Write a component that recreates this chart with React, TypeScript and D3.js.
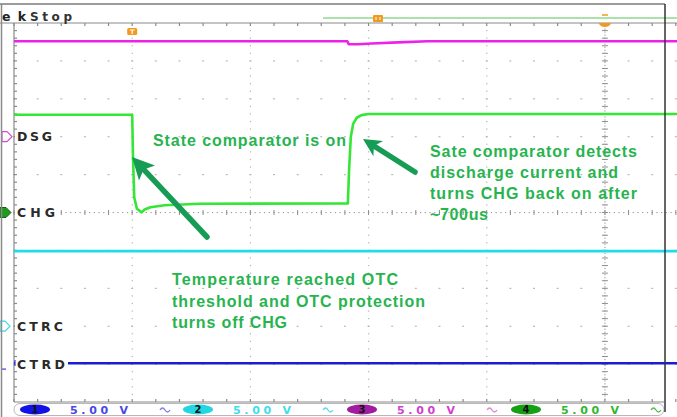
import * as d3 from 'd3';

// Scope settings: 400 us/div (trigger at 0 us), 5 V/div on every channel
const timeMajor = [0, 400, 800, 1200];
const timeCenter = 1600;
const divRows = [1, 2, 3, 4, 6, 7, 8, 9];

// traces: [time us, volts above the channel ground marker]
const dsgTrace: [number, number][] = [
  [-400, 12.6], [728, 12.6], [733, 12.2], [765, 12.2], [810, 12.3], [900, 12.45], [1000, 12.6], [1850, 12.6],
];
const chgTrace: [number, number][] = [
  [-400, 12.9], [0, 12.9], [3, 7], [7, 2], [16, 0.5], [32, 0.02], [42, 0.4], [62, 0.7], [110, 0.95],
  [230, 1.15], [730, 1.2], [734, 5.5], [740, 10], [748, 11.7], [760, 12.5], [776, 12.85], [800, 13.0], [1850, 13.0],
];
const ctrcTrace: [number, number][] = [[-400, 9.9], [1850, 9.9]];
const ctrdTrace: [number, number][] = [[-400, 0.12], [1850, 0.12]];

const channelNames = ['CTRD', 'CTRC', 'DSG', 'CHG'];
const channelNumbers = ['1', '2', '3', '4'];
const channelScales = ['5.00 V', '5.00 V', '5.00 V', '5.00 V'];
const groundDivs = [1, 2, 7, 5];

const noteOn = ['State comparator is on'];
const noteBack = ['Sate comparator detects', 'discharge current and', 'turns CHG back on after', '~700us'];
const noteOtc = ['Temperature reached OTC', 'threshold and OTC protection', 'turns off CHG'];

const traceColors = ['#1c1cd2', '#1fdcec', '#ec22ec', '#36e636'];
const badgeColors = ['#1212e6', '#22d6e2', '#a01ca0', '#16a016'];
const scaleColors = ['#4747e6', '#3fdceb', '#cf3fcf', '#2fb82f'];
const bwColors = ['#7f7fdc', '#5fd8ea', '#d58ad5', '#55bb55'];
const noteColor = '#27b44f';
const arrowColor = '#179c55';

function Arrow({ from, to, head, half, color }: { from: number[]; to: number[]; head: number; half: number; color: string }) {
  const dx = to[0] - from[0];
  const dy = to[1] - from[1];
  const len = Math.hypot(dx, dy);
  const ux = dx / len;
  const uy = dy / len;
  const bx = to[0] - ux * head;
  const by = to[1] - uy * head;
  const nx = bx + ux * 5;
  const ny = by + uy * 5;
  const px = -uy;
  const py = ux;
  return (
    <g>
      <line x1={from[0]} y1={from[1]} x2={nx} y2={ny} stroke={color} strokeWidth={5.5} strokeLinecap="round" />
      <polygon
        points={`${to[0]},${to[1]} ${bx + px * half},${by + py * half} ${nx},${ny} ${bx - px * half},${by - py * half}`}
        fill={color}
      />
    </g>
  );
}

export default function App() {
  const x = d3.scaleLinear().domain([-400, 1800]).range([14, 664]);
  const y = d3.scaleLinear().domain([0, 10]).range([402, 23]);
  const vy = (ground: number, v: number) => y(ground + v / 5);

  const minorT = d3.range(-400, 1850, 80);
  const minorDiv = d3.range(0.2, 9.9, 0.2);
  const fineT = d3.range(-400, 1850, 16);
  const fineDiv = d3.range(0.08, 9.95, 0.08);

  const traces = [ctrdTrace, ctrcTrace, dsgTrace, chgTrace];
  const lineFor = (ground: number) =>
    d3
      .line<[number, number]>()
      .x((d) => x(d[0]))
      .y((d) => vy(ground, d[1]));

  const font = '"Liberation Sans", Arial, sans-serif';
  const scopeFont = '"DejaVu Sans", sans-serif';
  const labelLen: Record<string, number> = { CTRD: 48, CTRC: 46, DSG: 35, CHG: 38 };
  const badgeX = [35, 198, 362, 526];

  const noteLens = {
    on: [193],
    back: [207, 188, 207, 58],
    otc: [226, 253, 115],
  };

  return (
    <div>
      <style>{'body{margin:0}'}</style>
      <svg width={677} height={417} style={{ display: 'block', background: '#fff' }} fontFamily={font}>
        {/* graticule dots */}
        <g fill="#b4b4b4">
          {timeMajor.map((t) =>
            minorDiv.map((d) => <rect key={`v${t}-${d}`} x={x(t) - 0.5} y={y(d) - 0.6} width={1.2} height={1.2} />)
          )}
          {divRows.map((d) =>
            minorT.map((t) => <rect key={`h${d}-${t}`} x={x(t) - 1} y={y(d) - 0.5} width={2} height={1.1} />)
          )}
        </g>
        {/* center axes */}
        <g fill="#9a9a9a">
          {fineT.map((t) => (
            <rect key={`cf${t}`} x={x(t) - 0.6} y={y(5) - 0.5} width={1.2} height={1.1} />
          ))}
          {fineDiv.map((d) => (
            <rect key={`cv${d}`} x={x(timeCenter) - 0.5} y={y(d) - 0.6} width={1.1} height={1.2} />
          ))}
        </g>
        <g stroke="#8e8e8e" strokeWidth={1}>
          {minorT.map((t) => (
            <line key={`ct${t}`} x1={x(t)} x2={x(t)} y1={y(5) - 2.5} y2={y(5) + 2.5} />
          ))}
          {minorDiv.map((d) => (
            <line key={`cd${d}`} x1={x(timeCenter) - 3} x2={x(timeCenter) + 3} y1={y(d)} y2={y(d)} />
          ))}
        </g>
        {/* graticule border */}
        <g stroke="#8a8a8a" strokeWidth={1.2}>
          <line x1={0} x2={677} y1={y(10)} y2={y(10)} />
          <line x1={x(-400)} x2={x(-400)} y1={y(10)} y2={y(0)} />
          <line x1={x(-400)} x2={664} y1={y(0)} y2={y(0)} />
          {minorT.map((t) => (
            <g key={`bt${t}`}>
              <line x1={x(t)} x2={x(t)} y1={y(10)} y2={y(10) + 3} />
              <line x1={x(t)} x2={x(t)} y1={y(0)} y2={y(0) - 3} />
            </g>
          ))}
          {minorDiv.map((d) => (
            <line key={`bl${d}`} x1={x(-400)} x2={x(-400) + 3} y1={y(d)} y2={y(d)} />
          ))}
        </g>

        {/* traces */}
        {traces.map((tr, i) => (
          <path
            key={`tr${i}`}
            d={lineFor(groundDivs[i])(tr) || ''}
            fill="none"
            stroke={traceColors[i]}
            strokeWidth={2.6}
            strokeLinejoin="round"
          />
        ))}

        {/* channel labels and ground markers */}
        {channelNames.map((name, i) => {
          const gy = y(groundDivs[i]);
          return (
            <g key={name}>
              <rect x={15} y={gy - 6} width={labelLen[name] + 5} height={12} fill="#fff" />
              <text
                x={17}
                y={gy + 4.5}
                fontSize={12.5}
                fontWeight="bold"
                fontFamily={scopeFont}
                fill="#2a2a2a"
                textLength={labelLen[name]}
                lengthAdjust="spacing"
              >
                {name}
              </text>
            </g>
          );
        })}
        <path
          d={`M2,${y(7) - 5} L7,${y(7) - 5} L12,${y(7)} L7,${y(7) + 5} L2,${y(7) + 5} Z`}
          fill="#fff"
          stroke="#d54bd5"
          strokeWidth={1.2}
        />
        <path
          d={`M0,${y(5) - 5} L6,${y(5) - 5} L11,${y(5)} L6,${y(5) + 5} L0,${y(5) + 5} Z`}
          fill="#1f9a1f"
          stroke="#0d5e0d"
          strokeWidth={1}
        />
        <path
          d={`M0,${y(2) - 5} L5,${y(2) - 5} L10,${y(2)} L5,${y(2) + 5} L0,${y(2) + 5} Z`}
          fill="#fff"
          stroke="#3ad6e6"
          strokeWidth={1.2}
        />
        <line x1={2} x2={6} y1={y(1) + 5} y2={y(1) + 5} stroke="#3b3be0" strokeWidth={1.2} />
        <line x1={15} x2={15} y1={y(1) - 4} y2={y(1) + 2} stroke="#3b3be0" strokeWidth={1.2} />

        {/* top status (left edge of the capture cuts the "T") */}
        <text x={2} y={21} fontSize={12.5} fontWeight="bold" fontFamily={scopeFont} fill="#222" textLength={24} lengthAdjust="spacing">
          ek
        </text>
        <text x={30} y={21} fontSize={12} fontWeight="bold" fontFamily={scopeFont} fill="#333" textLength={42} lengthAdjust="spacing">
          Stop
        </text>
        <line x1={323} x2={677} y1={18} y2={18} stroke="#55c855" strokeWidth={1.2} />
        <rect x={x(0) - 5} y={28} width={10} height={7} rx={1.5} fill="#f29a1e" />
        <path d={`M${x(0) - 2.5},30 H${x(0) + 2.5} M${x(0)},30 V34`} stroke="#fff" strokeWidth={1.2} />
        <rect x={373} y={15} width={10} height={7} rx={1} fill="#f29a1e" />
        <path d="M376,17 V20 M380,17 V20" stroke="#fff" strokeWidth={1} />
        <path d={`M${x(timeCenter) - 6},${y(10)} A6,4 0 0 0 ${x(timeCenter) + 6},${y(10)} Z`} fill="#f29a1e" />
        <line x1={x(timeCenter) - 3} x2={x(timeCenter) + 3} y1={15} y2={15} stroke="#f29a1e" strokeWidth={1.5} />

        {/* annotations */}
        <g fontSize={16} fontWeight="bold" fill={noteColor}>
          {noteOn.map((s, i) => (
            <text key={s} x={153} y={146 + i * 21} textLength={noteLens.on[i]} lengthAdjust="spacing">
              {s}
            </text>
          ))}
          {noteBack.map((s, i) => (
            <text key={s} x={430} y={157 + i * 21} textLength={noteLens.back[i]} lengthAdjust="spacing">
              {s}
            </text>
          ))}
          {noteOtc.map((s, i) => (
            <text key={s} x={172} y={285 + i * 21.5} textLength={noteLens.otc[i]} lengthAdjust="spacing">
              {s}
            </text>
          ))}
        </g>
        <Arrow from={[207, 237]} to={[132, 157]} head={22} half={11} color={arrowColor} />
        <Arrow from={[415, 172]} to={[363, 139]} head={18} half={9} color={arrowColor} />

        {/* channel readout bar */}
        <rect x={14} y={403.5} width={650} height={12} rx={6} fill="#fff" stroke="#b8b8b8" strokeWidth={1} />
        {channelNumbers.map((n, i) => (
          <g key={`ch${n}`}>
            <ellipse cx={badgeX[i]} cy={409.5} rx={15} ry={5} fill={badgeColors[i]} />
            <text x={badgeX[i]} y={413} fontSize={10} fontWeight="bold" fontFamily={scopeFont} fill="#111" textAnchor="middle">
              {n}
            </text>
            <text
              x={badgeX[i] + 35}
              y={413.5}
              fontSize={11}
              fontWeight="bold"
              fontFamily={scopeFont}
              fill={scaleColors[i]}
              textLength={58}
              lengthAdjust="spacing"
            >
              {channelScales[i]}
            </text>
            <path
              d={`M${badgeX[i] + 125},${410} q2.5,-4 5,0 t5,0`}
              fill="none"
              stroke={bwColors[i]}
              strokeWidth={1.3}
            />
          </g>
        ))}

        {/* picture frame */}
        <g fill="none">
          <line x1={0} x2={665} y1={4} y2={4} stroke="#7a7a7a" strokeWidth={1.5} />
          <line x1={1.5} x2={1.5} y1={4} y2={417} stroke="#8a8a8a" strokeWidth={1.5} />
          <line x1={665} x2={665} y1={4} y2={412} stroke="#333" strokeWidth={1.5} />
        </g>
      </svg>
    </div>
  );
}
